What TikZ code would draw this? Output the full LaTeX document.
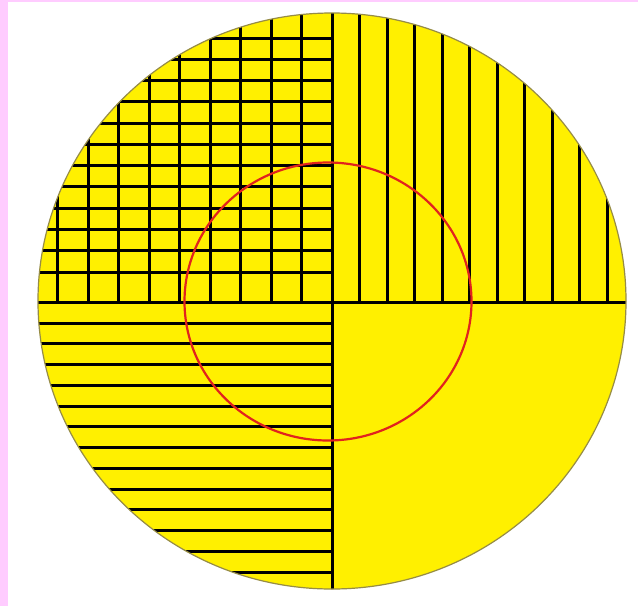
\documentclass[tikz,border=0pt]{standalone}
\definecolor{pinkb}{RGB}{255,204,255}
\definecolor{yel}{RGB}{255,240,0}
\definecolor{redc}{RGB}{225,35,30}
\definecolor{rimc}{RGB}{150,140,70}
\begin{document}
\begin{tikzpicture}[x=0.5pt,y=-0.5pt,
  hatch/.style={line width=1.5pt, black},
  rim/.style={line width=0.6pt, rimc},
  redring/.style={line width=1.1pt, redc}]
\useasboundingbox (0,0) rectangle (638,606);
\fill[white] (0,0) rectangle (638,606);
\fill[pinkb] (0,0) rectangle (8,606);
\fill[pinkb] (0,0) rectangle (638,2);
\fill[yel] (332,301) ellipse [x radius=147pt, y radius=144pt];
\begin{scope}
  \clip (332,301) ellipse [x radius=147pt, y radius=144pt];
  % upper-left grid: horizontals
  \foreach \k in {0,...,11} {
    \draw[hatch] (30,{272-21.27*\k}) -- (332,{272-21.27*\k});
  }
  % upper-left grid: verticals
  \foreach \k in {1,...,9} {
    \draw[hatch] ({332-30.5*\k},0) -- ({332-30.5*\k},302);
  }
  % upper-right verticals
  \foreach \k in {1,...,10} {
    \draw[hatch] ({332+27.5*\k},0) -- ({332+27.5*\k},302);
  }
  % lower-left horizontals
  \foreach \k in {0,...,12} {
    \draw[hatch] (30,{323+20.75*\k}) -- (332,{323+20.75*\k});
  }
  % axes
  \draw[hatch] (30,302) -- (640,302);
  \draw[hatch] (332,0) -- (332,606);
\end{scope}
\draw[rim] (332,301) ellipse [x radius=147pt, y radius=144pt];
\draw[redring] (328,301.5) ellipse [x radius=71.75pt, y radius=69.5pt];
\end{tikzpicture}
\end{document}
